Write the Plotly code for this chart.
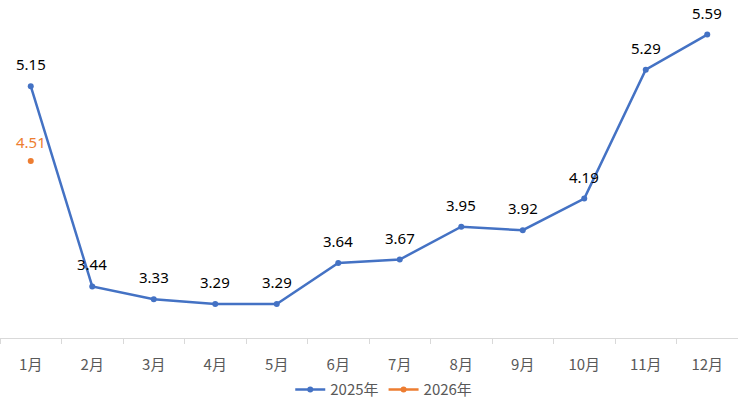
import plotly.graph_objects as go

months = ["1月", "2月", "3月", "4月", "5月", "6月", "7月", "8月", "9月", "10月", "11月", "12月"]
v2025 = [5.15, 3.44, 3.33, 3.29, 3.29, 3.64, 3.67, 3.95, 3.92, 4.19, 5.29, 5.59]
months2026 = ["1月"]
v2026 = [4.51]

blue = "#4472C4"
orange = "#ED7D31"
font_family = "Noto Sans, Noto Sans CJK SC, sans-serif"
cjk_family = "Noto Sans CJK SC, sans-serif"

fig = go.Figure()
fig.add_trace(go.Scatter(
    x=months, y=v2025, name="2025年", mode="lines+markers",
    line=dict(color=blue, width=2.5), marker=dict(color=blue, size=6),
    cliponaxis=False,
))
fig.add_trace(go.Scatter(
    x=months2026, y=v2026, name="2026年", mode="lines+markers",
    line=dict(color=orange, width=2.5), marker=dict(color=orange, size=6),
    cliponaxis=False,
))

annotations = []
for m, v in zip(months, v2025):
    annotations.append(dict(x=m, y=v, xref="x", yref="y", text=f"{v:.2f}", showarrow=False,
                            yshift=22, font=dict(color="#000000", size=15, family=font_family)))
for m, v in zip(months2026, v2026):
    annotations.append(dict(x=m, y=v, xref="x", yref="y", text=f"{v:.2f}", showarrow=False,
                            yshift=19, font=dict(color=orange, size=15, family=font_family)))

fig.update_layout(
    width=738, height=400,
    margin=dict(l=0, r=0, t=10, b=62, autoexpand=False),
    paper_bgcolor="white", plot_bgcolor="white",
    font=dict(family=font_family, color="#595959", size=14),
    showlegend=True,
    hovermode=False,
    annotations=annotations,
    legend=dict(orientation="h", x=0.52, xanchor="center", y=-0.158, yanchor="middle",
                font=dict(size=15, color="#595959", family=cjk_family),
                traceorder="normal"),
    xaxis=dict(
        categoryorder="array", categoryarray=months, range=[-0.5, len(months) - 0.5],
        showline=True, linecolor="#D9D9D9", linewidth=1,
        ticks="outside", tickson="boundaries", ticklen=5, tickcolor="#D9D9D9",
        showgrid=False, zeroline=False, ticklabelstandoff=13,
        tickfont=dict(size=15, color="#595959", family=cjk_family),
    ),
    yaxis=dict(range=[3.0, 5.8], visible=False, showgrid=False, zeroline=False),
)

fig.write_html("out.html", config={"displayModeBar": False},
               post_script="document.body.style.margin='0';")
